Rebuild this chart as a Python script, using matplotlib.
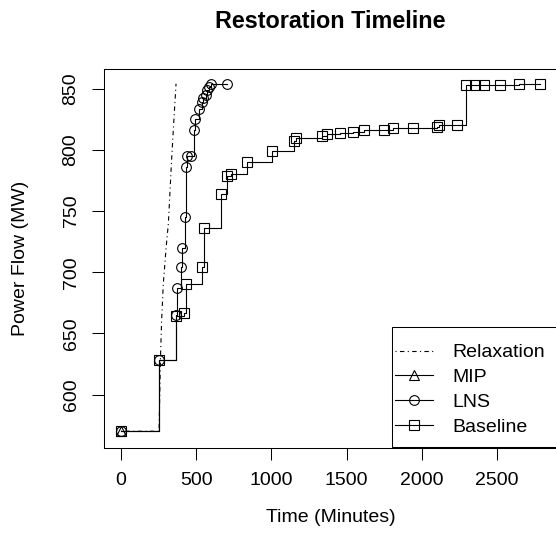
import matplotlib
matplotlib.use("Agg")
from matplotlib import pyplot as plt
from matplotlib.patches import Rectangle

plt.rcParams["font.family"] = ["Liberation Sans", "DejaVu Sans"]
plt.rcParams["font.size"] = 14

# data (minutes, MW)
relax_t = [0, 253, 262, 270, 281, 300, 315, 337, 352, 366]
relax_mw = [570, 570, 628, 660, 690, 720, 740, 793, 825, 854]

mip_t = [0]
mip_mw = [570]

lns_t = [0, 255, 364, 370, 399, 408, 426, 432, 441, 467, 488, 492, 519, 536,
         547, 563, 574, 585, 598, 703]
lns_mw = [570, 628, 665, 687, 704, 720, 745, 786, 795, 795, 816, 825, 833, 839,
          842, 845, 849, 851, 854, 854]

base_t = [0, 255, 366, 419, 432, 536, 552, 663, 703, 729, 836, 1002, 1150, 1165,
          1334, 1368, 1456, 1545, 1618, 1751, 1811, 1944, 2099, 2114, 2232, 2292,
          2354, 2414, 2520, 2648, 2785]
base_mw = [570, 628, 664, 667, 690, 704, 736, 764, 779, 780, 790, 799, 807, 810,
           811, 813, 814, 815, 816, 816, 818, 818, 819, 820, 820, 853,
           853, 853, 853, 854, 854]

fig = plt.figure(figsize=(5.56, 5.48), dpi=100)
ax = fig.add_axes([104 / 556, 100 / 548, 453 / 556, 379.5 / 548])

lw = 0.8
ax.plot(relax_t, relax_mw, color="black", lw=lw, dashes=(1, 3, 4, 3),
        label="Relaxation")
ax.plot(mip_t, mip_mw, color="black", lw=lw, marker="^", ms=7.5, mfc="none",
        mew=0.8, label="MIP")
ax.plot(lns_t, lns_mw, color="black", lw=lw, drawstyle="steps-post", marker="o",
        ms=7, mfc="none", mew=0.8, label="LNS")
ax.plot(base_t, base_mw, color="black", lw=lw, drawstyle="steps-post", marker="s",
        ms=6.5, mfc="none", mew=0.8, label="Baseline")

ax.set_xlim(-113, 2899)
ax.set_ylim(556.3, 866.5)
ax.set_xticks([0, 500, 1000, 1500, 2000, 2500])
ax.set_yticks([600, 650, 700, 750, 800, 850])
ax.tick_params(direction="out", length=8.6, width=0.75, pad=9)
plt.setp(ax.get_yticklabels(), rotation=90, va="center")
for s in ax.spines.values():
    s.set_linewidth(0.75)

ax.set_xlabel("Time (Minutes)", labelpad=14)
ax.set_ylabel("Power Flow (MW)", labelpad=24)
ax.set_title("Restoration Timeline", fontsize=16.8, fontweight="bold", pad=29.5)

# R-style legend box: flush to the bottom-right corner, small left inset
ax.add_patch(Rectangle((0.635, 0.003), 0.365, 0.3166, transform=ax.transAxes,
                       facecolor="white", edgecolor="black", lw=0.75,
                       clip_on=False, zorder=4))
leg = ax.legend(loc="upper left", bbox_to_anchor=(0.6424, 0.2745),
                borderaxespad=0, borderpad=0, frameon=False,
                handlelength=1.95, handletextpad=1.0, labelspacing=0.37)
leg.set_zorder(5)

fig.savefig("out.png", dpi=100)
